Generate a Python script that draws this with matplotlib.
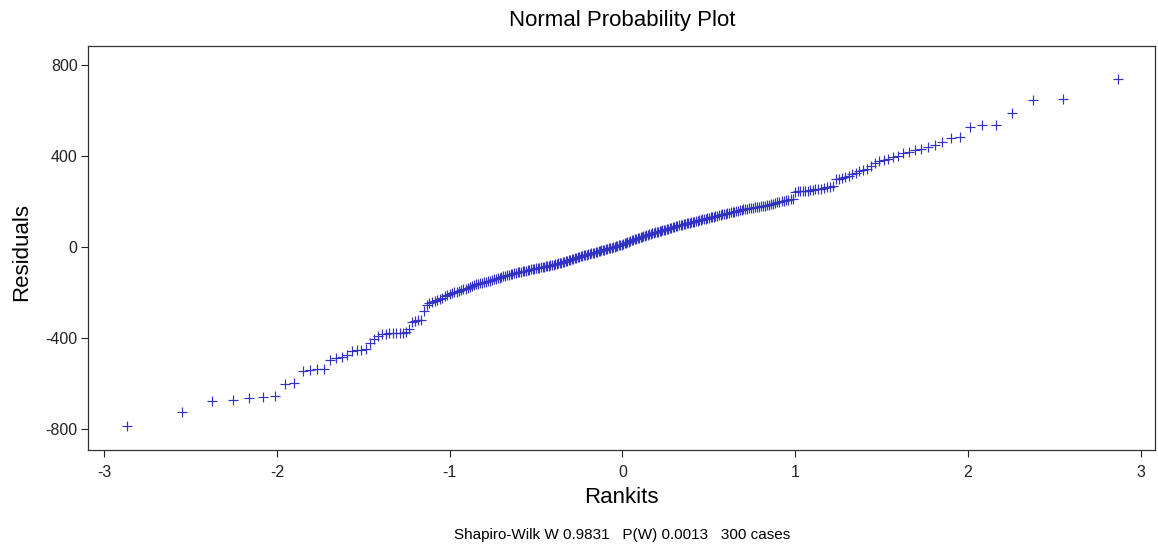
import matplotlib
matplotlib.use("Agg")
import matplotlib.pyplot as plt
from statistics import NormalDist

plt.rcParams['font.family'] = ['Liberation Sans', 'DejaVu Sans']

title = "Normal Probability Plot"
x_label = "Rankits"
y_label = "Residuals"
footer = "Shapiro-Wilk W 0.9831   P(W) 0.0013   300 cases"
x_ticks = [-3, -2, -1, 0, 1, 2, 3]
y_ticks = [-800, -400, 0, 400, 800]

# sorted residuals (300 cases)
residuals = [
    -786, -724, -675, -670, -663, -657, -655, -601, -594, -543,
    -537, -536, -533, -495, -488, -480, -474, -456, -452, -450,
    -446, -420, -403, -390, -382, -380, -378, -378, -377, -376,
    -375, -372, -361, -326, -323, -321, -318, -278, -252, -245,
    -241, -237, -232, -228, -222, -216, -211, -206, -202, -198,
    -195, -191, -188, -184, -181, -177, -173, -170, -166, -163,
    -160, -158, -156, -153, -151, -148, -146, -143, -141, -138,
    -136, -133, -131, -128, -126, -123, -121, -118, -116, -113,
    -111, -110, -108, -107, -105, -103, -102, -100, -99, -97,
    -96, -94, -93, -91, -90, -88, -87, -85, -84, -82,
    -80, -79, -77, -76, -74, -72, -71, -69, -68, -66,
    -64, -61, -59, -57, -54, -52, -50, -48, -45, -43,
    -41, -39, -38, -36, -34, -32, -30, -29, -27, -25,
    -23, -21, -20, -18, -16, -14, -12, -11, -9, -7,
    -5, -3, -1, 1, 3, 5, 7, 8, 10, 12,
    15, 17, 20, 22, 25, 28, 30, 33, 35, 38,
    40, 42, 44, 46, 48, 51, 53, 55, 57, 59,
    61, 63, 65, 67, 69, 70, 72, 74, 76, 78,
    80, 82, 84, 86, 88, 90, 92, 94, 96, 98,
    100, 101, 103, 105, 106, 108, 110, 112, 113, 115,
    117, 119, 120, 122, 124, 126, 128, 129, 131, 133,
    135, 137, 139, 141, 142, 144, 146, 148, 150, 152,
    154, 156, 157, 159, 161, 163, 165, 166, 168, 170,
    171, 173, 174, 176, 177, 179, 180, 182, 183, 185,
    187, 190, 192, 195, 197, 199, 202, 204, 207, 209,
    211, 214, 244, 245, 246, 247, 248, 249, 250, 252,
    254, 256, 258, 260, 263, 266, 270, 298, 302, 306,
    310, 315, 320, 326, 333, 338, 344, 356, 368, 378,
    383, 388, 396, 400, 415, 420, 425, 430, 442, 449,
    464, 481, 483, 529, 537, 537, 588, 647, 651, 738,
]
assert len(residuals) == 300

n = len(residuals)
# rankits (expected normal scores) from the ranks, Blom positions
nd = NormalDist()
rankits = [nd.inv_cdf((i - 0.375) / (n + 0.25)) for i in range(1, n + 1)]

fig = plt.figure(figsize=(11.58, 5.53), dpi=100)
ax = fig.add_axes([0.076, 0.1863, 0.9214, 0.7306])
ax.plot(rankits, residuals, linestyle='none', marker='+', color='#3232c4',
        markersize=6.8, markeredgewidth=0.85)

ax.set_xlim(-3.093, 3.082)
ax.set_ylim(-890, 884)
ax.set_xticks(x_ticks)
ax.set_yticks(y_ticks)
ax.set_xticklabels([str(v) for v in x_ticks])
ax.set_yticklabels([str(v) for v in y_ticks])
ax.tick_params(direction='out', length=5, width=0.8, colors='#222222',
               labelsize=11.5)
ax.tick_params(axis='y', pad=2.5)
ax.tick_params(axis='x', pad=6)
for s in ax.spines.values():
    s.set_color('#333333')
    s.set_linewidth(0.9)

fig.text(0.537, 0.963, title, ha='center', va='center', fontsize=16)
fig.text(0.019, 0.545, y_label, ha='center', va='center', rotation=90, fontsize=16)
fig.text(0.537, 0.101, x_label, ha='center', va='center', fontsize=16)
fig.text(0.537, 0.032, footer, ha='center', va='center', fontsize=11)

fig.savefig("out.png", dpi=100)
